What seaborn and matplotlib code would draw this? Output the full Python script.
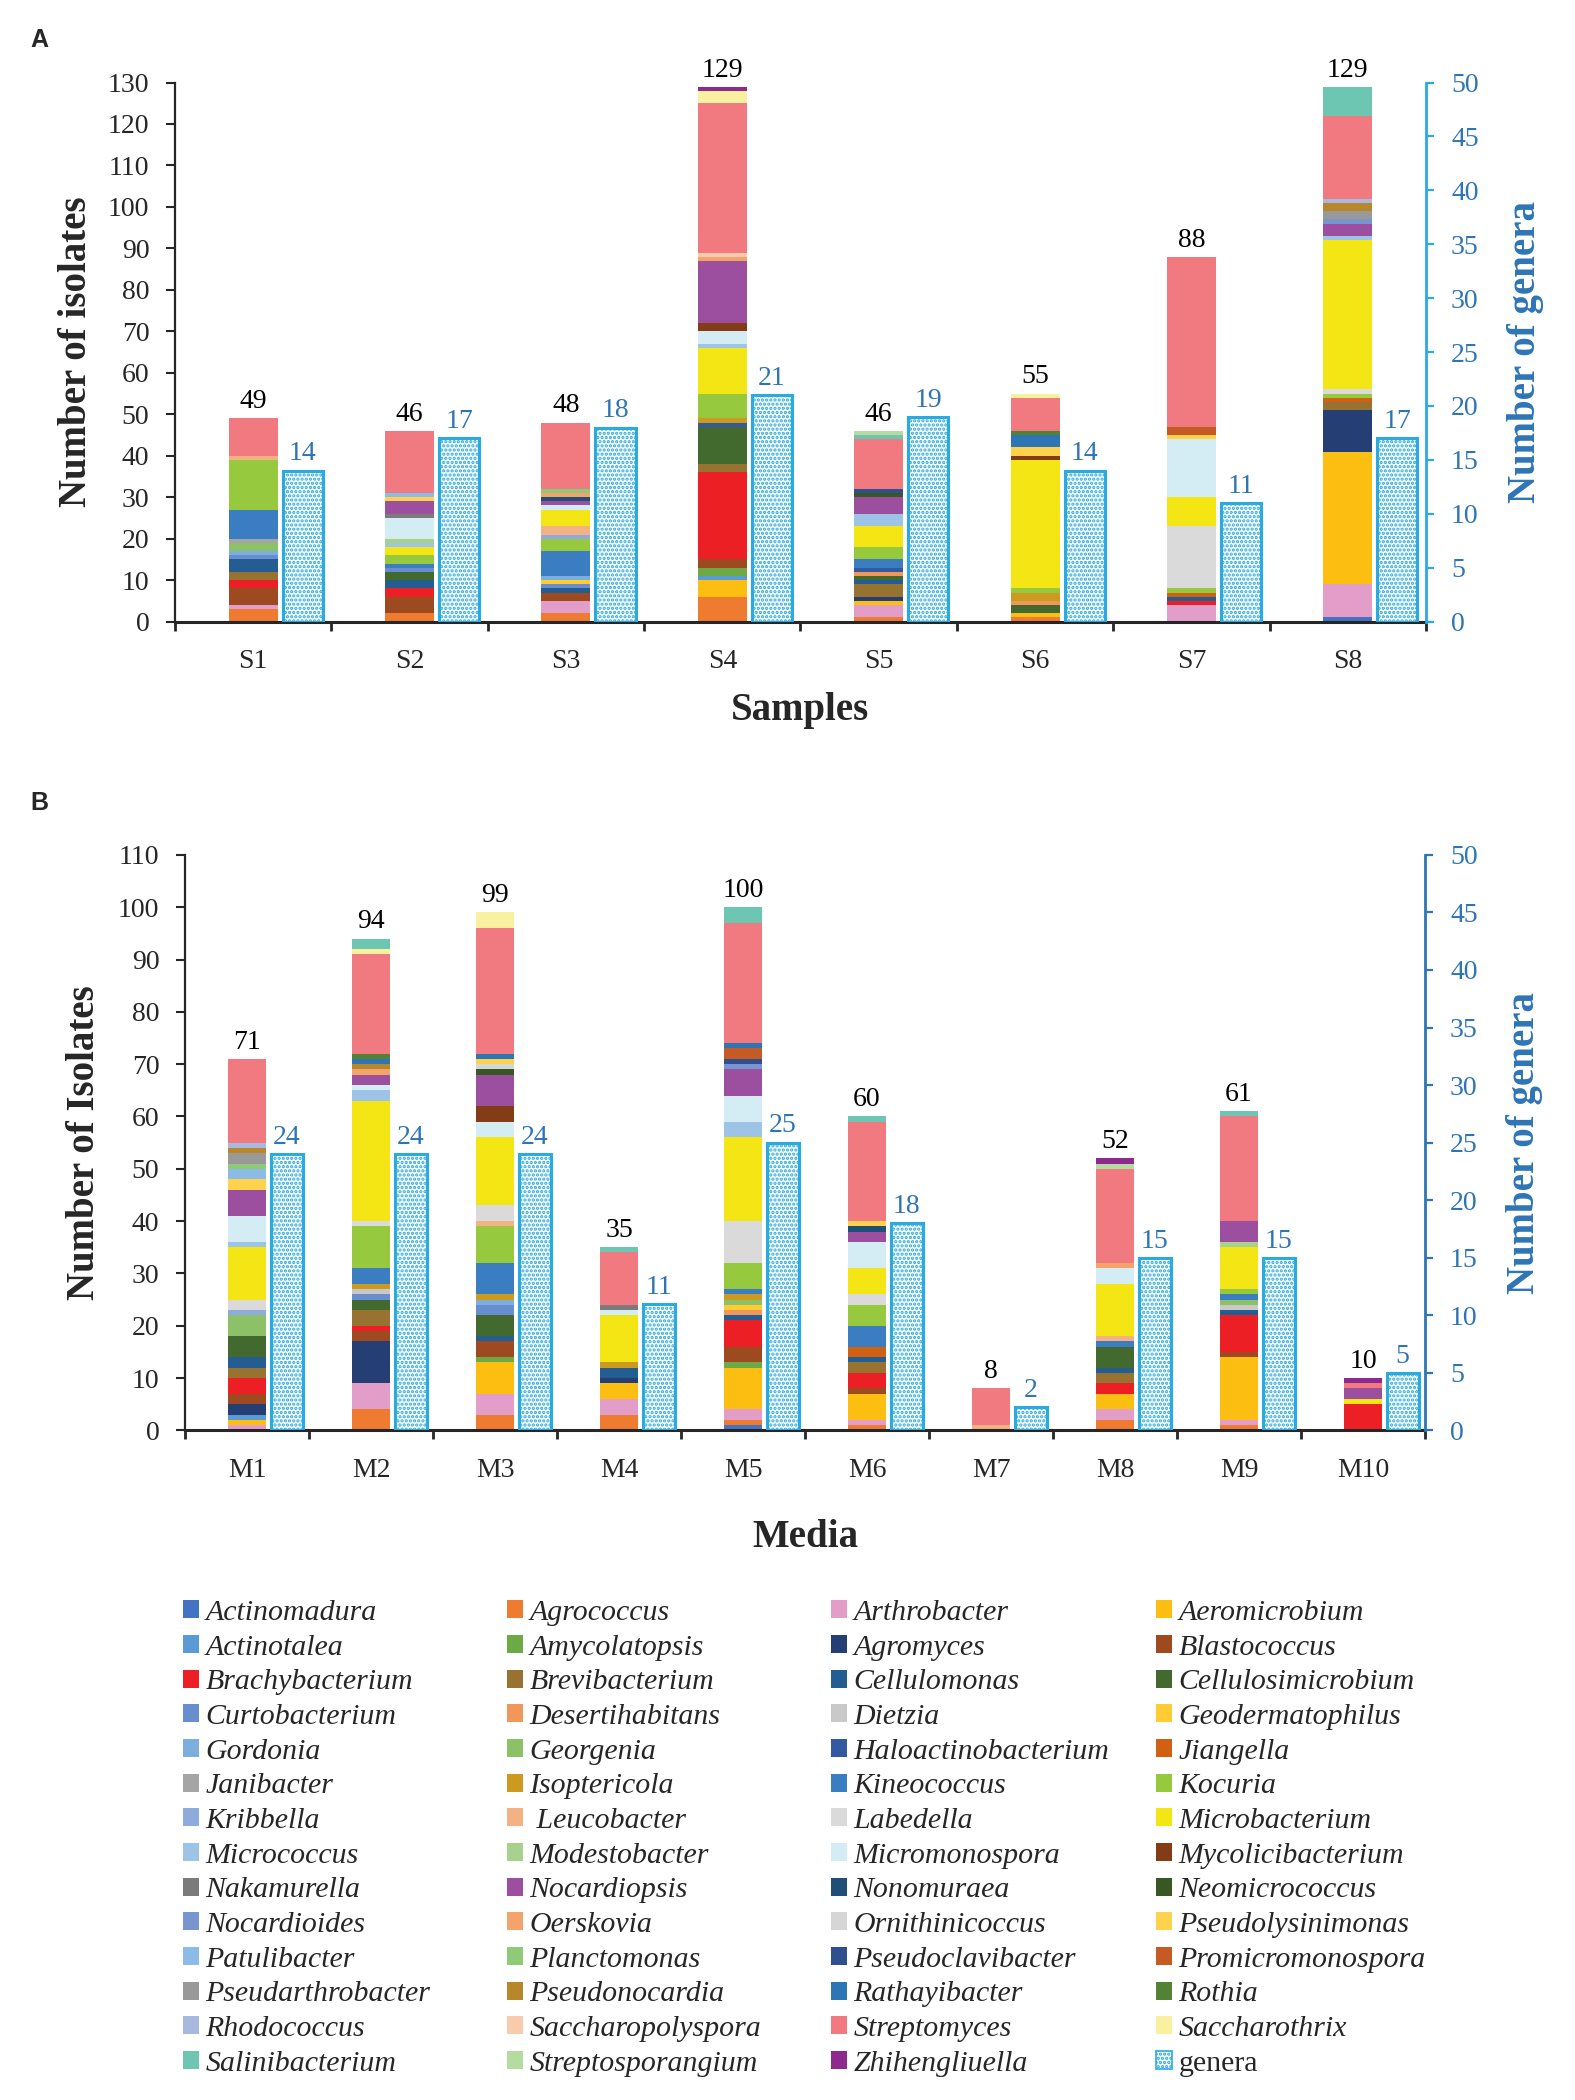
import numpy as np
import pandas as pd
import matplotlib.pyplot as plt
from matplotlib.patches import Patch
import seaborn as sns

sns.set_style('ticks')
plt.rcParams['font.family'] = ['Liberation Serif', 'DejaVu Serif']
plt.rcParams['hatch.linewidth'] = 1.6

# series order = legend order (row by row), first one at the bottom of the stack
genera = ['Actinomadura', 'Agrococcus', 'Arthrobacter', 'Aeromicrobium',
          'Actinotalea', 'Amycolatopsis', 'Agromyces', 'Blastococcus',
          'Brachybacterium', 'Brevibacterium', 'Cellulomonas', 'Cellulosimicrobium',
          'Curtobacterium', 'Desertihabitans', 'Dietzia', 'Geodermatophilus',
          'Gordonia', 'Georgenia', 'Haloactinobacterium', 'Jiangella',
          'Janibacter', 'Isoptericola', 'Kineococcus', 'Kocuria',
          'Kribbella', 'Leucobacter', 'Labedella', 'Microbacterium',
          'Micrococcus', 'Modestobacter', 'Micromonospora', 'Mycolicibacterium',
          'Nakamurella', 'Nocardiopsis', 'Nonomuraea', 'Neomicrococcus',
          'Nocardioides', 'Oerskovia', 'Ornithinicoccus', 'Pseudolysinimonas',
          'Patulibacter', 'Planctomonas', 'Pseudoclavibacter', 'Promicromonospora',
          'Pseudarthrobacter', 'Pseudonocardia', 'Rathayibacter', 'Rothia',
          'Rhodococcus', 'Saccharopolyspora', 'Streptomyces', 'Saccharothrix',
          'Salinibacterium', 'Streptosporangium', 'Zhihengliuella']

colors = ['#4472C4', '#EE7B30', '#E29DC8', '#FDBE12',
          '#5B9BD5', '#6DAA45', '#253F74', '#9E4A21',
          '#EC2024', '#987230', '#245D91', '#426A2E',
          '#698ED0', '#F1975A', '#C9C9C9', '#FFCD33',
          '#7CAFDD', '#8CC168', '#335AA1', '#D26012',
          '#A5A5A5', '#CC9A1E', '#3A7DC1', '#96C93D',
          '#8FAADC', '#F4B183', '#DADADA', '#F4E614',
          '#9DC3E6', '#A9D18E', '#D4ECF4', '#843C17',
          '#7B7B7B', '#9B4F9E', '#1F4E79', '#385723',
          '#7895CF', '#F4A46A', '#D6D6D6', '#FFD24D',
          '#8BBBE6', '#90C978', '#2F4F8F', '#C55A24',
          '#999999', '#B8862B', '#2E75B6', '#548235',
          '#A8B9E0', '#F8CBAD', '#F07A80', '#F9F1A0',
          '#6CC6B1', '#B5DBA0', '#8E2A8E']

# ---- panel A: samples
samples = ['S1', 'S2', 'S3', 'S4', 'S5', 'S6', 'S7', 'S8']
S1 = dict(Agrococcus=3, Arthrobacter=1, Blastococcus=4, Brachybacterium=2, Brevibacterium=2,
          Cellulomonas=3, Curtobacterium=1, Gordonia=1, Georgenia=2, Janibacter=1,
          Kineococcus=7, Kocuria=12, Leucobacter=1, Streptomyces=9)
S2 = dict(Agrococcus=2, Blastococcus=4, Brachybacterium=2, Cellulomonas=2, Cellulosimicrobium=2,
          Curtobacterium=1, Kineococcus=1, Kocuria=2, Microbacterium=2, Micrococcus=1,
          Modestobacter=1, Micromonospora=5, Nakamurella=1, Nocardiopsis=3,
          Pseudolysinimonas=1, Patulibacter=1, Streptomyces=15)
S3 = dict(Agrococcus=2, Arthrobacter=3, Blastococcus=2, Cellulomonas=1, Curtobacterium=1,
          Geodermatophilus=1, Gordonia=1, Kineococcus=6, Kocuria=3, Kribbella=1,
          Leucobacter=2, Microbacterium=4, Micromonospora=1, Nocardiopsis=1, Nonomuraea=1,
          Oerskovia=1, Planctomonas=1, Streptomyces=16)
S4 = dict(Agrococcus=6, Aeromicrobium=4, Actinotalea=1, Amycolatopsis=2, Blastococcus=2,
          Brachybacterium=21, Brevibacterium=2, Cellulosimicrobium=9, Haloactinobacterium=1,
          Isoptericola=1, Kocuria=6, Microbacterium=11, Micrococcus=1, Micromonospora=3,
          Mycolicibacterium=2, Nocardiopsis=15, Oerskovia=1, Saccharopolyspora=1,
          Streptomyces=36, Saccharothrix=3, Zhihengliuella=1)
S5 = dict(Agrococcus=1, Arthrobacter=3, Aeromicrobium=1, Agromyces=1, Brevibacterium=3,
          Cellulomonas=1, Cellulosimicrobium=1, Desertihabitans=1, Haloactinobacterium=1,
          Kineococcus=2, Kocuria=3, Microbacterium=5, Micrococcus=3, Nocardiopsis=4,
          Neomicrococcus=1, Pseudoclavibacter=1, Streptomyces=12, Salinibacterium=1,
          Streptosporangium=1)
S6 = dict(Agrococcus=1, Aeromicrobium=1, Cellulosimicrobium=2, Desertihabitans=1, Isoptericola=2,
          Kocuria=1, Microbacterium=31, Mycolicibacterium=1, Pseudolysinimonas=2,
          Rathayibacter=3, Rothia=1, Streptomyces=8, Saccharothrix=1)
S7 = dict(Arthrobacter=4, Brachybacterium=1, Cellulomonas=1, Jiangella=1, Kocuria=1,
          Labedella=15, Microbacterium=7, Micromonospora=14, Pseudolysinimonas=1,
          Promicromonospora=2, Streptomyces=41)
S8 = dict(Actinomadura=1, Arthrobacter=8, Aeromicrobium=32, Agromyces=10, Brevibacterium=2,
          Jiangella=1, Kocuria=1, Labedella=1, Microbacterium=36, Micrococcus=1,
          Nocardiopsis=3, Nocardioides=1, Pseudarthrobacter=2, Pseudonocardia=2,
          Rhodococcus=1, Streptomyces=20, Salinibacterium=7)
genera_a = [14, 17, 18, 21, 19, 14, 11, 17]

# ---- panel B: media
media = ['M1', 'M2', 'M3', 'M4', 'M5', 'M6', 'M7', 'M8', 'M9', 'M10']
M1 = dict(Arthrobacter=1, Aeromicrobium=1, Actinotalea=1, Agromyces=2, Blastococcus=2,
          Brachybacterium=3, Brevibacterium=2, Cellulomonas=2, Cellulosimicrobium=4,
          Georgenia=4, Kribbella=1, Labedella=2, Microbacterium=10, Micrococcus=1,
          Micromonospora=5, Nocardiopsis=5, Pseudolysinimonas=2, Patulibacter=2,
          Planctomonas=1, Pseudarthrobacter=2, Pseudonocardia=1, Rhodococcus=1,
          Streptomyces=16)
M2 = dict(Agrococcus=4, Arthrobacter=5, Agromyces=8, Blastococcus=2, Brachybacterium=1,
          Brevibacterium=3, Cellulosimicrobium=2, Curtobacterium=1, Dietzia=1, Isoptericola=1,
          Kineococcus=3, Kocuria=8, Labedella=1, Microbacterium=23, Micrococcus=2,
          Micromonospora=1, Nocardiopsis=2, Oerskovia=1, Pseudonocardia=1, Rathayibacter=1,
          Rothia=1, Streptomyces=19, Saccharothrix=1, Salinibacterium=2)
M3 = dict(Agrococcus=3, Arthrobacter=4, Aeromicrobium=6, Amycolatopsis=1, Blastococcus=3,
          Cellulomonas=1, Cellulosimicrobium=4, Curtobacterium=2, Gordonia=1, Isoptericola=1,
          Kineococcus=6, Kocuria=7, Leucobacter=1, Labedella=3, Microbacterium=13,
          Micromonospora=3, Mycolicibacterium=3, Nocardiopsis=6, Neomicrococcus=1,
          Ornithinicoccus=1, Pseudolysinimonas=1, Rathayibacter=1, Streptomyces=24,
          Saccharothrix=3)
M4 = dict(Agrococcus=3, Arthrobacter=3, Aeromicrobium=3, Agromyces=1, Cellulomonas=2,
          Isoptericola=1, Microbacterium=9, Micromonospora=1, Nakamurella=1,
          Streptomyces=10, Salinibacterium=1)
M5 = dict(Actinomadura=1, Agrococcus=1, Arthrobacter=2, Aeromicrobium=8, Amycolatopsis=1,
          Blastococcus=3, Brachybacterium=5, Cellulomonas=1, Desertihabitans=1,
          Geodermatophilus=1, Georgenia=1, Isoptericola=1, Kineococcus=1, Kocuria=5,
          Labedella=8, Microbacterium=16, Micrococcus=3, Micromonospora=5, Nocardiopsis=5,
          Nocardioides=1, Pseudoclavibacter=1, Promicromonospora=2, Rathayibacter=1,
          Streptomyces=23, Salinibacterium=3)
M6 = dict(Agrococcus=1, Arthrobacter=1, Aeromicrobium=5, Blastococcus=1, Brachybacterium=3,
          Brevibacterium=2, Cellulomonas=1, Jiangella=2, Kineococcus=4, Kocuria=4,
          Labedella=2, Microbacterium=5, Micromonospora=5, Nocardiopsis=2, Nonomuraea=1,
          Pseudolysinimonas=1, Streptomyces=19, Salinibacterium=1)
M7 = dict(Leucobacter=1, Streptomyces=7)
M8 = dict(Agrococcus=2, Arthrobacter=2, Aeromicrobium=3, Brachybacterium=2, Brevibacterium=2,
          Cellulomonas=1, Cellulosimicrobium=4, Kineococcus=1, Leucobacter=1,
          Microbacterium=10, Micromonospora=3, Oerskovia=1, Streptomyces=18,
          Streptosporangium=1, Zhihengliuella=1)
M9 = dict(Agrococcus=1, Arthrobacter=1, Aeromicrobium=12, Blastococcus=1, Brachybacterium=7,
          Cellulomonas=1, Dietzia=1, Georgenia=1, Kineococcus=1, Kocuria=1,
          Microbacterium=8, Modestobacter=1, Nocardiopsis=4, Streptomyces=20,
          Salinibacterium=1)
M10 = dict(Brachybacterium=5, Microbacterium=1, Nocardiopsis=2, Streptomyces=1,
           Zhihengliuella=1)
genera_b = [24, 24, 24, 11, 25, 18, 2, 15, 15, 5]

GEN_EDGE = '#29ABE2'
GEN_TEXT = '#2E75B6'
FS = 20


def long_table(names, bars):
    rows = []
    for i, (name, bar) in enumerate(zip(names, bars)):
        for g in genera:
            rows.append({'pos': i, 'name': name, 'genus': g, 'count': bar.get(g, 0)})
    return pd.DataFrame(rows)


def panel(ax, names, bars, n_gen, ymax, spine_col, ylabel, xlabel, bar_w, g_off, g_w,
          xlabelpad, ylabelpad):
    n = len(names)
    df = long_table(names, bars)
    sns.histplot(data=df, x='pos', weights='count', hue='genus', hue_order=genera[::-1],
                 palette=dict(zip(genera, colors)), multiple='stack', discrete=True,
                 shrink=bar_w, alpha=1, linewidth=0, legend=False, ax=ax)
    totals = df.groupby('pos')['count'].sum()
    for p, t in totals.items():
        ax.annotate(str(t), (p, t), xytext=(0, 3), textcoords='offset points',
                    ha='center', va='bottom', fontsize=FS, color='black')

    ax2 = ax.twinx()
    gdf = pd.DataFrame({'pos': np.arange(n) + g_off, 'n': n_gen})
    sns.barplot(data=gdf, x='pos', y='n', native_scale=True, width=g_w, color='white',
                saturation=1, edgecolor=GEN_EDGE, linewidth=2.2, hatch='....',
                errorbar=None, ax=ax2)
    for p, v in zip(gdf['pos'], gdf['n']):
        ax2.annotate(str(v), (p, v), xytext=(0, 3), textcoords='offset points',
                     ha='center', va='bottom', fontsize=FS, color=GEN_TEXT)

    ax.set_xlim(-0.5, n - 0.5)
    ax.set_ylim(0, ymax)
    ax.set_yticks(range(0, ymax + 1, 10))
    ax.set_xticks(np.arange(n + 1) - 0.5)
    ax.set_xticklabels([])
    ax.set_xticks(np.arange(n), minor=True)
    ax.set_xticklabels(names, minor=True)
    ax.tick_params(axis='x', which='major', length=6.5, width=2, direction='out')
    ax.tick_params(axis='x', which='minor', length=0, pad=20, labelsize=FS)
    ax.tick_params(axis='y', length=6.5, width=1.5, labelsize=FS, pad=12)
    ax.set_xlabel(xlabel, fontsize=28, fontweight='bold', labelpad=xlabelpad)
    ax.set_ylabel(ylabel, fontsize=28, fontweight='bold', labelpad=ylabelpad)
    ax.spines['bottom'].set_linewidth(2.2)
    ax.spines['left'].set_linewidth(1.6)
    ax.spines['top'].set_visible(False)
    ax.spines['right'].set_visible(False)

    ax2.set_ylim(0, 50)
    ax2.set_yticks(range(0, 51, 5))
    ax2.set_xlim(-0.5, n - 0.5)
    ax2.tick_params(axis='y', length=6, width=1.6, color=spine_col, labelcolor=GEN_TEXT,
                    labelsize=FS, pad=12)
    ax2.set_ylabel('Number of genera', fontsize=28, fontweight='bold', color=GEN_TEXT,
                   labelpad=20)
    for s in ['top', 'left', 'bottom']:
        ax2.spines[s].set_visible(False)
    ax2.spines['right'].set_color(spine_col)
    ax2.spines['right'].set_linewidth(2)
    ax2.set_xlabel('')


fig = plt.figure(figsize=(15.75, 21), dpi=100)
axA = fig.add_axes([0.1111, 0.7040, 0.7943, 0.2567])
axB = fig.add_axes([0.1175, 0.3189, 0.7873, 0.2740])

panel(axA, samples, [S1, S2, S3, S4, S5, S6, S7, S8], genera_a, 130, GEN_EDGE,
      'Number of isolates', 'Samples', 0.314, 0.317, 0.256, 13, 9)
panel(axB, media, [M1, M2, M3, M4, M5, M6, M7, M8, M9, M10], genera_b, 110, GEN_TEXT,
      'Number of Isolates', 'Media', 0.306, 0.32, 0.26, 26, 11)

fig.text(30 / 1575, 1 - 28 / 2100, 'A', family='Liberation Sans', fontweight='bold',
         fontsize=18, va='top', ha='left')
fig.text(30 / 1575, 1 - 791 / 2100, 'B', family='Liberation Sans', fontweight='bold',
         fontsize=18, va='top', ha='left')

# legend: 4 columns laid out row by row like the original
labels = genera + ['genera']
handles = [Patch(facecolor=c, edgecolor='none') for c in colors]
handles.append(Patch(facecolor='white', edgecolor=GEN_EDGE, hatch='....', linewidth=1.2))
col_x = [183, 507, 831, 1156]
for c in range(4):
    idx = [r * 4 + c for r in range(14)]
    leg = fig.legend([handles[i] for i in idx],
                     [(' ' + labels[i]) if labels[i] == 'Leucobacter' else labels[i] for i in idx],
                     loc='upper left', bbox_to_anchor=(col_x[c] / 1575, 1 - 1600 / 2100),
                     frameon=False, borderpad=0, borderaxespad=0, handlelength=0.55,
                     handleheight=0.55, handletextpad=0.2, labelspacing=0.29,
                     prop={'family': 'Liberation Serif', 'size': 21.5, 'style': 'italic'})
    for t in leg.get_texts():
        if t.get_text() == 'genera':
            t.set_fontstyle('normal')

fig.savefig('out.png', dpi=100)
